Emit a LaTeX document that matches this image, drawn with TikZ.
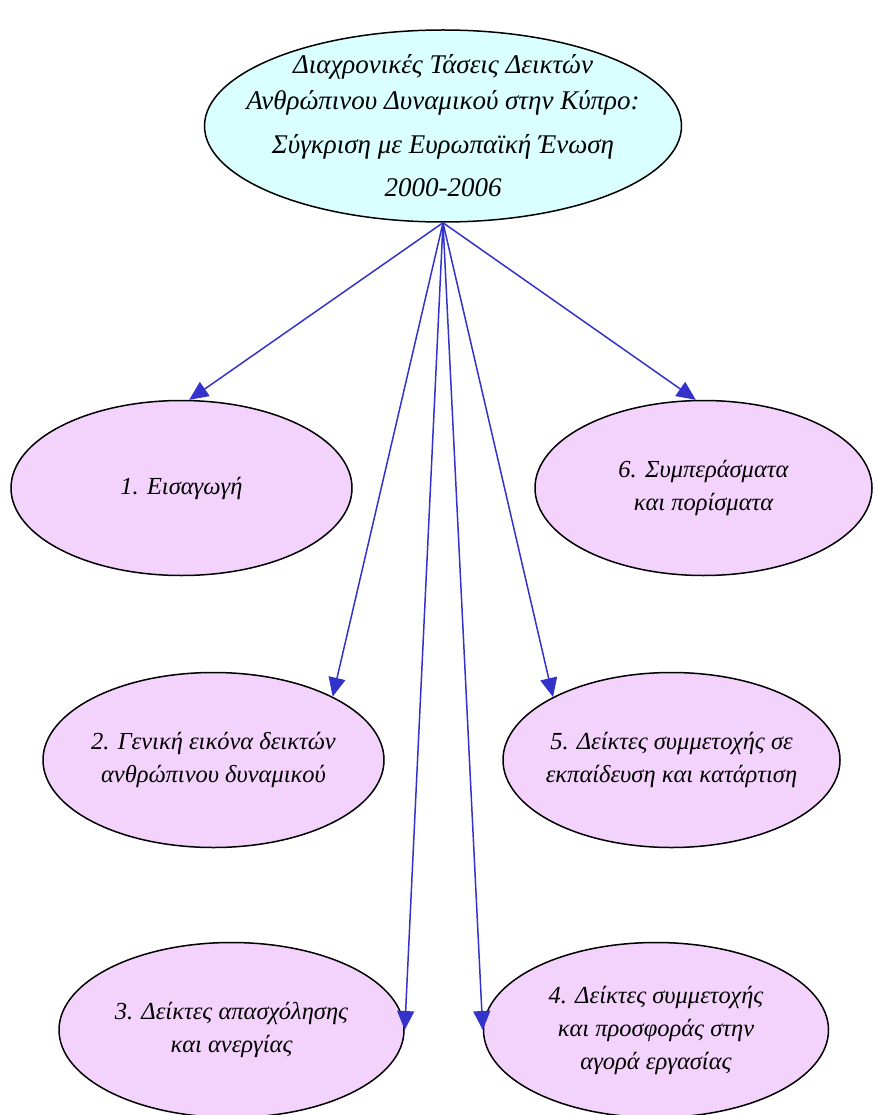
\documentclass[tikz,border=0pt]{standalone}
\usepackage{fontspec}
\setmainfont{Liberation Serif}
\usetikzlibrary{shapes.geometric,arrows.meta}
\definecolor{topfill}{RGB}{217,255,255}
\definecolor{subfill}{RGB}{243,211,252}
\definecolor{arrowblue}{RGB}{51,51,204}
\tikzset{
  oval/.style={ellipse,draw=black,line width=1.5pt,inner sep=-60pt,align=center,
    font=\itshape\fontsize{24.5}{33}\selectfont},
  topoval/.style={oval,fill=topfill,minimum width=477pt,minimum height=192pt,
    font=\itshape\fontsize{27}{36}\selectfont},
  suboval/.style={oval,fill=subfill,minimum width=342pt,minimum height=175pt},
  link/.style={draw=arrowblue,line width=1.5pt,-{Triangle[length=19pt,width=17pt]}}
}
\begin{document}
\begin{tikzpicture}[x=1pt,y=-1pt]
\useasboundingbox (0,0) rectangle (872,1115);
\node[topoval] (t) at (443,126) {Διαχρονικές Τάσεις Δεικτών\\Ανθρώπινου Δυναμικού στην Κύπρο:\\[8pt]Σύγκριση με Ευρωπαϊκή Ένωση\\[7pt]2000-2006};
\node[suboval,minimum width=341pt] (e1) at (181.5,488) {1. Εισαγωγή};
\node[suboval,minimum width=337pt] (e6) at (703.5,488) {6. Συμπεράσματα\\και πορίσματα};
\node[suboval,minimum width=341pt] (e2) at (213.5,760) {2. Γενική εικόνα δεικτών\\ανθρώπινου δυναμικού};
\node[suboval,minimum width=337pt] (e5) at (671.5,760) {5. Δείκτες συμμετοχής σε\\εκπαίδευση και κατάρτιση};
\node[suboval,minimum width=345pt] (e3) at (231.5,1030) {3. Δείκτες απασχόλησης\\και ανεργίας};
\node[suboval,minimum width=345pt] (e4) at (656,1030) {4. Δείκτες συμμετοχής\\και προσφοράς στην\\αγορά εργασίας};
\coordinate (src) at (t.south);
\draw[link] (src) -- (e1.85);
\draw[link] (src) -- (e6.95);
\draw[link] (src) -- (e2.28);
\draw[link] (src) -- (e5.152);
\draw[link] (src) -- (e3.east);
\draw[link] (src) -- (e4.west);
\end{tikzpicture}
\end{document}
